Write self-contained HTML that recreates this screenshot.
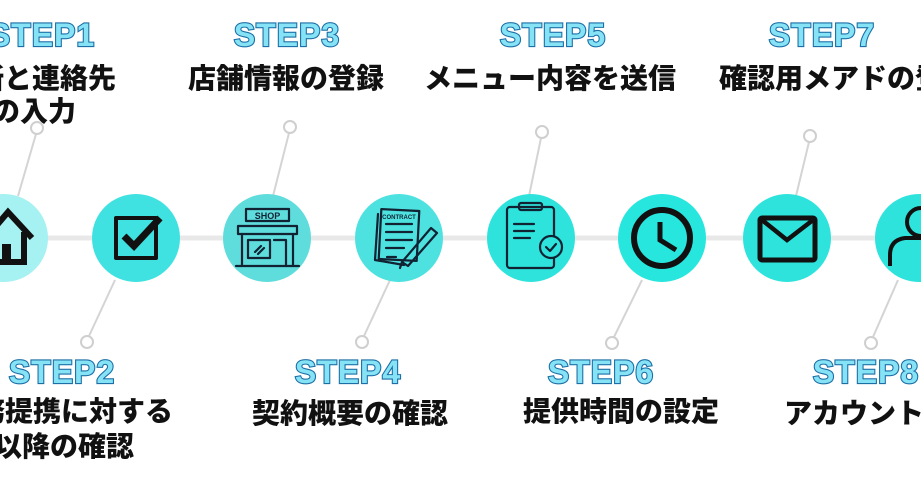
<!DOCTYPE html>
<html><head><meta charset="utf-8"><style>
html,body{margin:0;padding:0;background:#fff;}
svg{display:block}
.st{font-family:"Liberation Sans",sans-serif;font-weight:bold;font-size:32px;fill:#86e3f5;stroke:#1c6fa6;stroke-width:2.2px;paint-order:stroke;letter-spacing:1px}
.tt{font-family:"Liberation Sans","Noto Sans CJK JP",sans-serif;font-weight:900;font-size:28px;fill:#111}
.ln{stroke:#d4d4d4;stroke-width:2;fill:none}
.dot{fill:#fff;stroke:#cfcfcf;stroke-width:2}
.ic{fill:none;stroke:#111;stroke-width:4;stroke-linejoin:round;stroke-linecap:round}
.ic2{fill:none;stroke:#123;stroke-width:2.2;stroke-linejoin:round;stroke-linecap:round}
</style></head><body>
<svg width="921" height="484" viewBox="0 0 921 484" xmlns="http://www.w3.org/2000/svg">
<rect width="921" height="484" fill="#fff"/>
<line x1="0" y1="238" x2="921" y2="238" stroke="#e8e8e8" stroke-width="5"/>
<line class="ln" x1="18" y1="196" x2="36" y2="134"/><circle class="dot" cx="37" cy="128" r="6"/>
<line class="ln" x1="273" y1="196" x2="289" y2="133"/><circle class="dot" cx="290" cy="127" r="6"/>
<line class="ln" x1="529" y1="196" x2="541" y2="138"/><circle class="dot" cx="542" cy="132" r="6"/>
<line class="ln" x1="796" y1="196" x2="809" y2="142"/><circle class="dot" cx="810" cy="136" r="6"/>
<line class="ln" x1="115" y1="280" x2="89" y2="336"/><circle class="dot" cx="87" cy="342" r="6"/>
<line class="ln" x1="390" y1="280" x2="364" y2="336"/><circle class="dot" cx="362" cy="342" r="6"/>
<line class="ln" x1="642" y1="280" x2="614" y2="337"/><circle class="dot" cx="612" cy="343" r="6"/>
<line class="ln" x1="898" y1="280" x2="873" y2="337"/><circle class="dot" cx="871" cy="343" r="6"/>
<circle cx="4" cy="238" r="44" fill="#a6f1f1"/>
<circle cx="136" cy="238" r="44" fill="#3fe2e0"/>
<circle cx="267" cy="238" r="44" fill="#5fdcdc"/>
<circle cx="399" cy="238" r="44" fill="#4de2e0"/>
<circle cx="531" cy="238" r="44" fill="#2de3dc"/>
<circle cx="662" cy="238" r="44" fill="#26e6de"/>
<circle cx="787" cy="238" r="44" fill="#2de3dc"/>
<circle cx="919" cy="238" r="44" fill="#2de3dc"/>
<path d="M-14 238 L8 212 L32 238 M-4 232 V262 H24 V232" fill="none" stroke="#111" stroke-width="6" stroke-linejoin="miter"/>
<rect x="2" y="244" width="9" height="18" fill="#111"/>
<rect x="116" y="218" width="40" height="40" class="ic" stroke-width="5"/>
<path d="M124 236 L134 246 L160 218" fill="none" stroke="#111" stroke-width="7" stroke-linejoin="miter"/>
<g class="ic2">
<rect x="246" y="209" width="43" height="12"/>
<rect x="238" y="226" width="59" height="8"/>
<path d="M242 234 V266 M293 234 V266 M236 266 H299"/>
<rect x="248" y="240" width="22" height="18"/>
<path d="M274 240 H286 V266 M255 252 L261 246 M258 254 L264 248"/>
</g>
<text x="267.5" y="219" font-family="Liberation Sans,sans-serif" font-weight="bold" font-size="9" text-anchor="middle" fill="#123">SHOP</text>
<g class="ic2">
<path d="M378 214 L375 260 L404 265"/>
<rect x="380" y="210" width="38" height="50" transform="rotate(3 399 235)"/>
<path d="M386 224 H412 M386 232 H412 M386 240 H412 M386 248 H404 M387 257 H396"/>
<path d="M402 262 L431 228 L437 233 L408 266 Z M400 268 L402 262"/>
</g>
<text x="399" y="219" font-family="Liberation Sans,sans-serif" font-weight="bold" font-size="6" text-anchor="middle" fill="#123">CONTRACT</text>
<g class="ic2" stroke-width="2.8">
<rect x="507" y="207" width="47" height="61" rx="3"/>
<rect x="519" y="203" width="23" height="7" rx="2"/>
<path d="M514 224 H534 M514 231 H534 M514 238 H530"/>
<circle cx="551" cy="247" r="11" fill="#2de3dc"/>
<path d="M546 247 L550 251 L556 244"/>
</g>
<circle cx="662" cy="238" r="28" fill="none" stroke="#111" stroke-width="6"/>
<path d="M660 222 V240 L676 250" fill="none" stroke="#111" stroke-width="5"/>
<rect x="760" y="218" width="55" height="42" rx="2" fill="none" stroke="#111" stroke-width="5"/>
<path d="M762 220 L787 240 L813 220" fill="none" stroke="#111" stroke-width="4.5"/>
<circle cx="921" cy="222" r="14" fill="none" stroke="#111" stroke-width="4"/>
<path d="M890 266 V255 Q890 240 905 238 H937" fill="none" stroke="#111" stroke-width="4"/>
<text class="st" x="42" y="46" text-anchor="middle">STEP1</text>
<text class="st" x="287" y="46" text-anchor="middle">STEP3</text>
<text class="st" x="553" y="46" text-anchor="middle">STEP5</text>
<text class="st" x="822" y="46" text-anchor="middle">STEP7</text>
<text class="st" x="62" y="383" text-anchor="middle">STEP2</text>
<text class="st" x="348" y="383" text-anchor="middle">STEP4</text>
<text class="st" x="601" y="383" text-anchor="middle">STEP6</text>
<text class="st" x="866" y="383" text-anchor="middle">STEP8</text>
<text class="tt" x="116" y="88" text-anchor="end">住所と連絡先</text>
<text class="tt" x="76" y="121" text-anchor="end">情報の入力</text>
<text class="tt" x="286" y="88" text-anchor="middle">店舗情報の登録</text>
<text class="tt" x="550" y="88" text-anchor="middle">メニュー内容を送信</text>
<text class="tt" x="719" y="88">確認用メアドの登録</text>
<text class="tt" x="173" y="421" text-anchor="end">業務提携に対する</text>
<text class="tt" x="134" y="456" text-anchor="end">同意以降の確認</text>
<text class="tt" x="350" y="423" text-anchor="middle">契約概要の確認</text>
<text class="tt" x="621" y="421" text-anchor="middle">提供時間の設定</text>
<text class="tt" x="784" y="423">アカウント作成</text>
</svg>
</body></html>
